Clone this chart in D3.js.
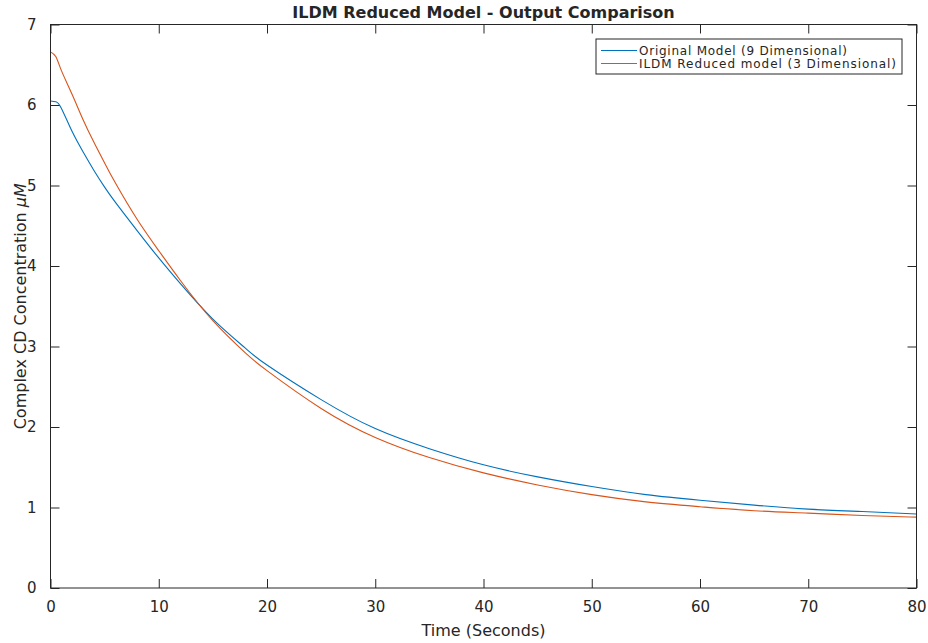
<!DOCTYPE html>
<meta charset="utf-8">
<style>
  body { margin: 0; background: #fff; }
  text { font-family: "DejaVu Sans", sans-serif; fill: #262626; }
</style>
<body id="chart"></body>

<script src="https://cdn.jsdelivr.net/npm/d3@7"></script>
<script>
//data
var times = [0, 0.5, 1, 2, 3, 4, 5, 6, 8, 10, 12, 15, 18, 20, 25, 30, 35, 40, 45, 50, 55, 60, 65, 70, 75, 80];
var original = [6.05, 6.04, 5.96, 5.67, 5.42, 5.19, 4.98, 4.79, 4.44, 4.10, 3.78, 3.34, 2.98, 2.77, 2.34, 1.98, 1.73, 1.53, 1.38, 1.26, 1.16, 1.09, 1.03, 0.98, 0.95, 0.92];
var reduced = [6.66, 6.60, 6.43, 6.13, 5.82, 5.54, 5.28, 5.03, 4.58, 4.19, 3.82, 3.32, 2.92, 2.70, 2.23, 1.87, 1.62, 1.43, 1.28, 1.16, 1.07, 1.01, 0.96, 0.93, 0.90, 0.88];
var xTicks = [0, 10, 20, 30, 40, 50, 60, 70, 80];
var yTicks = [0, 1, 2, 3, 4, 5, 6, 7];
var seriesNames = ["Original Model (9 Dimensional)", "ILDM Reduced model (3 Dimensional)"];
var seriesColors = ["#0072BD", "#D95319"];

//svg sizes and margins
var width = 928,
    height = 643;
var margin = {top: 24.5, right: 11.5, bottom: 55, left: 50.5};
var plotW = width - margin.left - margin.right,
    plotH = height - margin.top - margin.bottom;

var svg = d3.select("#chart").append("svg")
    .attr("width", width)
    .attr("height", height);

var g = svg.append("g")
    .attr("transform", "translate(" + margin.left + "," + margin.top + ")");

var x = d3.scaleLinear().domain([0, 80]).range([0, plotW]);
var y = d3.scaleLinear().domain([0, 7]).range([plotH, 0]);

//curves
var line = d3.line()
    .x(function (d) { return x(d[0]); })
    .y(function (d) { return y(d[1]); })
    .curve(d3.curveNatural);

[original, reduced].forEach(function (vals, k) {
    g.append("path")
        .datum(times.map(function (t, i) { return [t, vals[i]]; }))
        .attr("fill", "none")
        .attr("stroke", seriesColors[k])
        .attr("stroke-width", 1.1)
        .attr("d", line);
});

//axes, ticks inside, box on
function styleAxis(sel, showLabels) {
    sel.select(".domain").remove();
    sel.selectAll(".tick line").attr("stroke", "#262626").attr("stroke-width", 1);
    sel.selectAll(".tick text")
        .style("font-size", "15px")
        .attr("fill", "#333")
        .style("display", showLabels ? null : "none");
}

g.append("g")
    .attr("transform", "translate(0," + plotH + ")")
    .call(d3.axisBottom(x).tickValues(xTicks).tickSize(-9).tickPadding(13).tickFormat(d3.format("d")))
    .call(styleAxis, true);
g.append("g")
    .call(d3.axisTop(x).tickValues(xTicks).tickSize(-9))
    .call(styleAxis, false);
g.append("g")
    .call(d3.axisLeft(y).tickValues(yTicks).tickSize(-9).tickPadding(14).tickFormat(d3.format("d")))
    .call(styleAxis, true);
g.append("g")
    .attr("transform", "translate(" + plotW + ",0)")
    .call(d3.axisRight(y).tickValues(yTicks).tickSize(-9))
    .call(styleAxis, false);

g.append("rect")
    .attr("width", plotW)
    .attr("height", plotH)
    .attr("fill", "none")
    .attr("stroke", "#262626")
    .attr("stroke-width", 1);

//title and labels
svg.append("text")
    .attr("x", margin.left + plotW / 2)
    .attr("y", 18)
    .attr("text-anchor", "middle")
    .style("font-size", "16px")
    .style("font-weight", "bold")
    .attr("fill", "#000")
    .text("ILDM Reduced Model - Output Comparison");

svg.append("text")
    .attr("x", margin.left + plotW / 2)
    .attr("y", 636)
    .attr("text-anchor", "middle")
    .style("font-size", "16px")
    .text("Time (Seconds)");

var ylab = svg.append("text")
    .attr("transform", "translate(26," + (margin.top + plotH / 2) + ") rotate(-90)")
    .attr("text-anchor", "middle")
    .style("font-size", "16px");
ylab.append("tspan").text("Complex CD Concentration ");
ylab.append("tspan").style("font-style", "italic").text("\u03BCM");

//legend
var legend = svg.append("g").attr("transform", "translate(596,39)");
legend.append("rect")
    .attr("width", 306)
    .attr("height", 35)
    .attr("fill", "#fff")
    .attr("stroke", "#262626")
    .attr("stroke-width", 1);

var legendWidths = [208, 257];
seriesNames.forEach(function (name, k) {
    var yy = 11.5 + k * 13;
    legend.append("line")
        .attr("x1", 5).attr("x2", 41)
        .attr("y1", yy).attr("y2", yy)
        .attr("stroke", seriesColors[k])
        .attr("stroke-width", 1.1);
    legend.append("text")
        .attr("x", 43)
        .attr("y", yy)
        .attr("dy", "0.35em")
        .attr("textLength", legendWidths[k])
        .attr("lengthAdjust", "spacing")
        .style("font-size", "12px")
        .text(name);
});
</script>
